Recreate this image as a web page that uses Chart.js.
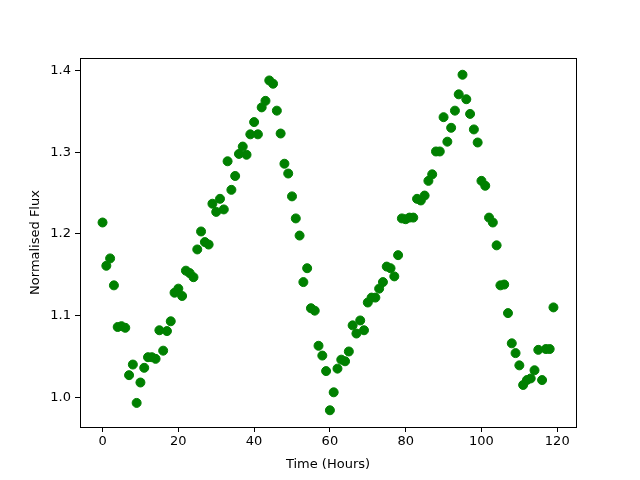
<!DOCTYPE html>
<html>
<head>
<meta charset="UTF-8">
<script src="https://cdn.jsdelivr.net/npm/chart.js@4"></script>
<style>
  body { margin: 0; background: #fff; }
  #wrap { width: 640px; height: 480px; }
</style>
</head>
<body>
<div id="wrap"><canvas id="chart" width="640" height="480"></canvas></div>
<script>
// time in hours, one sample per hour
const hours = Array.from({length: 120}, (_, i) => i);
const flux = [
  1.214, 1.161, 1.170, 1.137, 1.086, 1.087, 1.085, 1.027, 1.040, 0.993,
  1.018, 1.036, 1.049, 1.049, 1.047, 1.082, 1.057, 1.081, 1.093, 1.128,
  1.133, 1.124, 1.155, 1.152, 1.147, 1.181, 1.203, 1.190, 1.187, 1.237,
  1.227, 1.243, 1.230, 1.289, 1.254, 1.271, 1.298, 1.307, 1.297, 1.322,
  1.337, 1.322, 1.355, 1.363, 1.388, 1.384, 1.351, 1.323, 1.286, 1.274,
  1.246, 1.219, 1.198, 1.141, 1.158, 1.109, 1.106, 1.063, 1.051, 1.032,
  0.984, 1.006, 1.035, 1.046, 1.044, 1.056, 1.088, 1.078, 1.094, 1.082,
  1.116, 1.122, 1.122, 1.133, 1.141, 1.160, 1.158, 1.148, 1.174, 1.219,
  1.218, 1.220, 1.220, 1.243, 1.241, 1.247, 1.265, 1.273, 1.301, 1.301,
  1.343, 1.313, 1.330, 1.351, 1.371, 1.395, 1.365, 1.347, 1.328, 1.312,
  1.265, 1.259, 1.220, 1.214, 1.186, 1.137, 1.138, 1.103, 1.066, 1.054,
  1.039, 1.015, 1.021, 1.023, 1.033, 1.058, 1.021, 1.059, 1.059, 1.110
];
const xTicks = [0, 20, 40, 60, 80, 100, 120];
const yTicks = [1.0, 1.1, 1.2, 1.3, 1.4];

const points = hours.map((h, i) => ({x: h, y: flux[i]}));

// box around the plot area, like matplotlib spines
const frame = {
  id: 'frame',
  afterDraw(chart) {
    const a = chart.chartArea, c = chart.ctx;
    c.save();
    c.strokeStyle = '#000';
    c.lineWidth = 1;
    c.strokeRect(a.left + 0.5, a.top + 0.5, a.right - a.left, a.bottom - a.top);
    c.restore();
  }
};

Chart.defaults.font.family = 'DejaVu Sans';
Chart.defaults.font.size = 13;
Chart.defaults.color = '#000';

new Chart(document.getElementById('chart'), {
  type: 'scatter',
  data: {
    datasets: [{
      data: points,
      backgroundColor: 'green',
      borderColor: 'green',
      pointRadius: 4.5,
      pointHoverRadius: 4.5
    }]
  },
  options: {
    responsive: false,
    animation: false,
    plugins: { legend: { display: false }, tooltip: { enabled: false } },
    layout: { padding: { top: 58, right: 64, left: 0, bottom: 0 } },
    scales: {
      x: {
        min: -5.95, max: 124.95,
        afterBuildTicks: s => { s.ticks = xTicks.map(v => ({value: v})); },
        afterFit: s => { s.height = 53; },
        grid: { drawOnChartArea: false, tickLength: 5, color: '#000' },
        border: { display: false },
        ticks: { padding: 2, maxRotation: 0 },
        title: { display: true, text: 'Time (Hours)', padding: { top: 2, bottom: 8 } }
      },
      y: {
        min: 0.9635, max: 1.4155,
        afterBuildTicks: s => { s.ticks = yTicks.map(v => ({value: v})); },
        afterFit: s => { s.width = 80; },
        grid: { drawOnChartArea: false, tickLength: 5, color: '#000' },
        border: { display: false },
        ticks: { padding: 4, callback: v => v.toFixed(1) },
        title: { display: true, text: 'Normalised Flux', padding: { top: 28, bottom: 8 } }
      }
    }
  },
  plugins: [frame]
});
</script>
</body>
</html>
